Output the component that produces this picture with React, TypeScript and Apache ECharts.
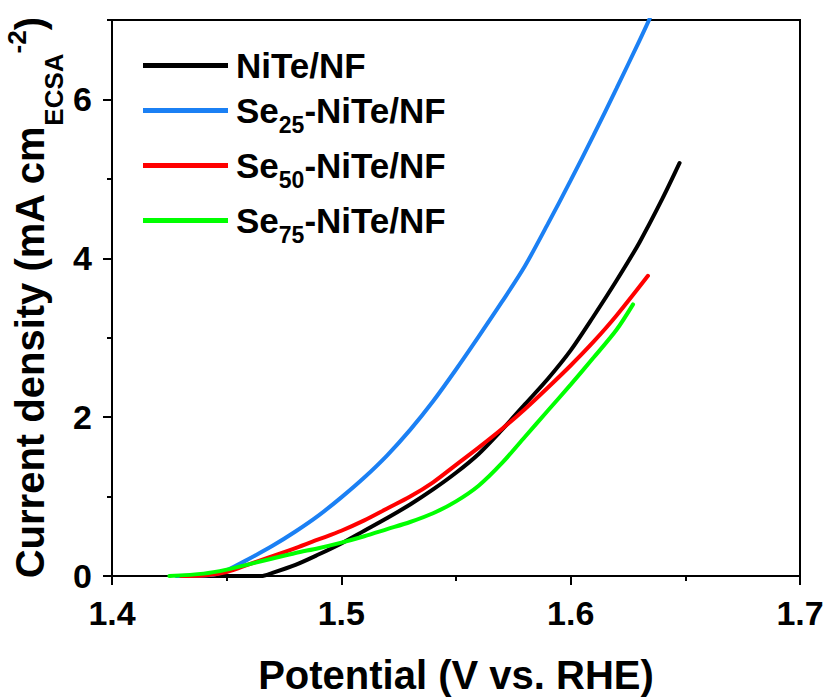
import React, { useEffect, useRef } from "react";
import * as echarts from "echarts";

// Linear sweep voltammetry, current normalised by ECSA
const seriesNames = ["NiTe/NF", "Se25-NiTe/NF", "Se50-NiTe/NF", "Se75-NiTe/NF"];
const legendRich = [
  "{m|NiTe/NF}",
  "{m|Se}{s|25}{m|-NiTe/NF}",
  "{m|Se}{s|50}{m|-NiTe/NF}",
  "{m|Se}{s|75}{m|-NiTe/NF}",
];
const seriesColors = ["#000000", "#1b80f4", "#ff0000", "#00ff00"];

const potentialNiTe = [1.43, 1.45, 1.465, 1.47, 1.48, 1.49, 1.5, 1.51, 1.52, 1.53, 1.54, 1.55, 1.56, 1.57, 1.58, 1.59, 1.6, 1.61, 1.62, 1.63, 1.64, 1.6475];
const currentNiTe = [0, 0, 0, 0.04, 0.14, 0.27, 0.41, 0.57, 0.73, 0.9, 1.09, 1.3, 1.54, 1.84, 2.16, 2.48, 2.84, 3.27, 3.72, 4.2, 4.75, 5.2];

const potentialSe25 = [1.428, 1.44, 1.445, 1.45, 1.46, 1.47, 1.48, 1.49, 1.5, 1.51, 1.52, 1.53, 1.54, 1.55, 1.56, 1.57, 1.58, 1.59, 1.6, 1.61, 1.62, 1.63, 1.6345];
const currentSe25 = [0, 0.005, 0.02, 0.07, 0.22, 0.38, 0.56, 0.76, 0.99, 1.24, 1.52, 1.84, 2.2, 2.6, 3.02, 3.45, 3.9, 4.43, 4.98, 5.55, 6.14, 6.74, 7.02];

const potentialSe50 = [1.43, 1.44, 1.45, 1.46, 1.47, 1.48, 1.49, 1.5, 1.51, 1.52, 1.53, 1.54, 1.55, 1.56, 1.57, 1.58, 1.59, 1.6, 1.61, 1.62, 1.6337];
const currentSe50 = [0, 0.005, 0.05, 0.15, 0.25, 0.35, 0.46, 0.57, 0.7, 0.85, 1.0, 1.18, 1.4, 1.62, 1.85, 2.1, 2.37, 2.65, 2.95, 3.28, 3.78];

const potentialSe75 = [1.425, 1.44, 1.45, 1.46, 1.47, 1.48, 1.49, 1.5, 1.51, 1.52, 1.53, 1.54, 1.55, 1.56, 1.57, 1.58, 1.59, 1.6, 1.61, 1.62, 1.6272];
const currentSe75 = [0, 0.03, 0.08, 0.15, 0.22, 0.29, 0.35, 0.42, 0.5, 0.59, 0.68, 0.79, 0.94, 1.14, 1.42, 1.75, 2.08, 2.41, 2.75, 3.1, 3.42];

const xTicks = { min: 1.4, max: 1.7, interval: 0.1 };
const yTicks = { min: 0, max: 7, interval: 2 };

const FONT = "'Liberation Sans', Arial, sans-serif";

function pairs(xs: number[], ys: number[]) {
  return xs.map((x, i) => [x, ys[i]]);
}

export default function App() {
  const ref = useRef<HTMLDivElement>(null);

  useEffect(() => {
    if (!ref.current) return;
    const chart = echarts.init(ref.current, null, { renderer: "svg" });
    const data = [
      pairs(potentialNiTe, currentNiTe),
      pairs(potentialSe25, currentSe25),
      pairs(potentialSe50, currentSe50),
      pairs(potentialSe75, currentSe75),
    ];

    const axisLine = { show: true, lineStyle: { color: "#000", width: 2 } };

    chart.setOption({
      animation: false,
      backgroundColor: "#ffffff",
      grid: {
        left: 112,
        right: 31,
        top: 20,
        bottom: 124,
        show: true,
        borderColor: "#000",
        borderWidth: 2,
        backgroundColor: "transparent",
        outerBoundsMode: "none",
        containLabel: false,
      },
      legend: {
        orient: "vertical",
        left: 143,
        top: 48,
        padding: 0,
        itemWidth: 85,
        itemHeight: 5,
        itemGap: 0,
        icon: "rect",
        data: seriesNames,
        formatter: (name: string) => legendRich[seriesNames.indexOf(name)],
        textStyle: {
          padding: [0, 0, 0, 3],
          rich: {
            m: { fontFamily: FONT, fontWeight: "bold", fontSize: 35, lineHeight: 39, color: "#000", verticalAlign: "middle" },
            s: { fontFamily: FONT, fontWeight: "bold", fontSize: 23, lineHeight: 23, color: "#000", padding: [30, 0, 2, 0], verticalAlign: "middle" },
          },
        },
      },
      xAxis: {
        type: "value",
        min: xTicks.min,
        max: xTicks.max,
        interval: xTicks.interval,
        name: "Potential (V vs. RHE)",
        nameLocation: "middle",
        nameGap: 79,
        nameMoveOverlap: false,
        nameTextStyle: { fontFamily: FONT, fontWeight: "bold", fontSize: 40, color: "#000" },
        axisLine,
        axisTick: { show: true, inside: false, length: 9, lineStyle: { color: "#000", width: 2 } },
        minorTick: { show: true, splitNumber: 2, length: 5, lineStyle: { color: "#000", width: 2 } },
        axisLabel: {
          fontFamily: FONT,
          fontWeight: "bold",
          fontSize: 34,
          color: "#000",
          margin: 20,
          formatter: (v: number) => v.toFixed(1),
        },
        splitLine: { show: false },
      },
      yAxis: [
        {
          type: "value",
          min: yTicks.min,
          max: yTicks.max,
          interval: yTicks.interval,
          name: "{m|Current density (mA cm}{s|ECSA}{p|-2}{m|)}",
          nameLocation: "middle",
          nameRotate: 90,
          nameGap: 62,
          nameMoveOverlap: false,
          nameTextStyle: {
            rich: {
              m: { fontFamily: FONT, fontWeight: "bold", fontSize: 40, lineHeight: 40, color: "#000", verticalAlign: "middle" },
              s: { fontFamily: FONT, fontWeight: "bold", fontSize: 26, lineHeight: 26, color: "#000", padding: [48, 0, 0, 0], verticalAlign: "middle" },
              p: { fontFamily: FONT, fontWeight: "bold", fontSize: 26, lineHeight: 26, color: "#000", padding: [11, 0, 37, 0], verticalAlign: "middle" },
            },
          },
          axisLine,
          axisTick: { show: true, inside: false, length: 9, lineStyle: { color: "#000", width: 2 } },
          axisLabel: {
            fontFamily: FONT,
            fontWeight: "bold",
            fontSize: 34,
            color: "#000",
            margin: 20,
            showMaxLabel: false,
          },
          splitLine: { show: false },
        },
        {
          // minor ticks every 1 unit
          type: "value",
          position: "left",
          min: yTicks.min,
          max: yTicks.max,
          interval: 1,
          axisLine: { show: false },
          axisTick: { show: true, inside: false, length: 5, lineStyle: { color: "#000", width: 2 } },
          axisLabel: { show: false },
          splitLine: { show: false },
        },
      ],
      series: seriesNames.map((name, i) => ({
        name,
        type: "line",
        data: data[i],
        yAxisIndex: 0,
        showSymbol: false,
        symbol: "none",
        smooth: 0.3,
        clip: true,
        lineStyle: { color: seriesColors[i], width: 4, cap: "round" },
        itemStyle: { color: seriesColors[i] },
        z: 2 + i,
      })),
    });

    return () => chart.dispose();
  }, []);

  return (
    <div
      ref={ref}
      style={{ position: "absolute", left: 0, top: 0, width: 831, height: 700 }}
    />
  );
}
